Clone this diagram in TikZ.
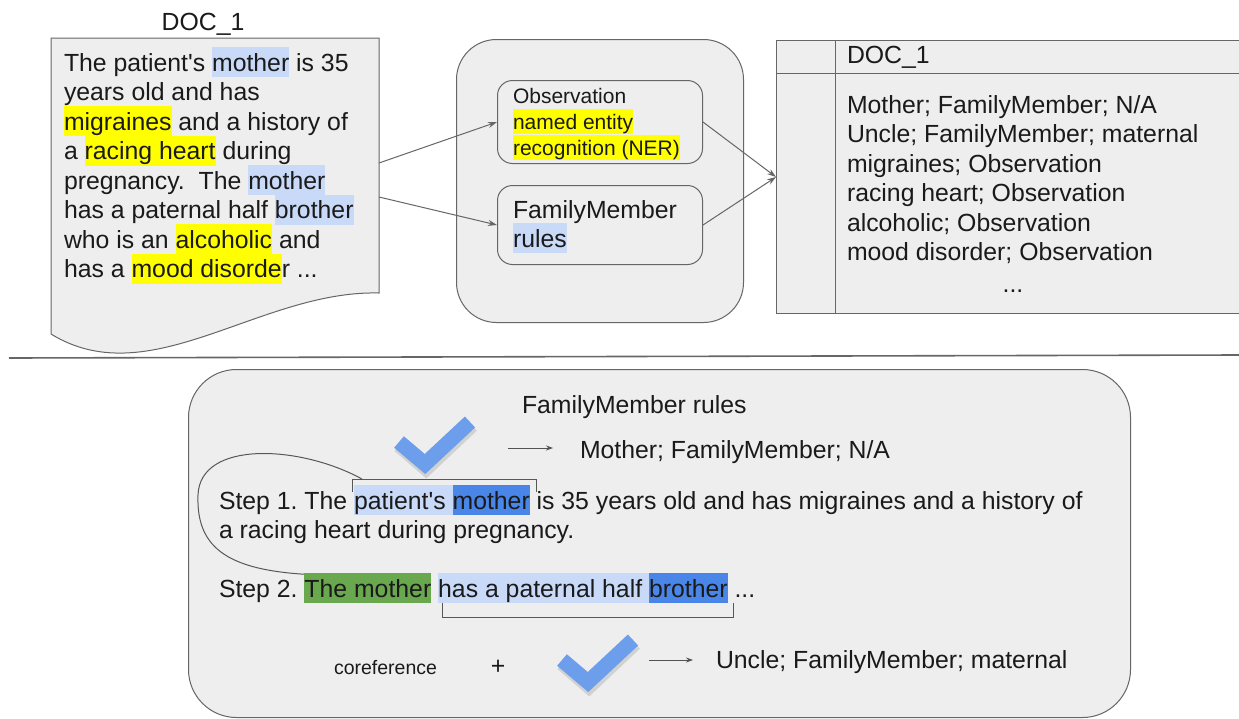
\documentclass[tikz,border=0pt]{standalone}
\usepackage{fontspec}
\newfontfamily\arial{Liberation Sans}
\usetikzlibrary{arrows.meta}
\definecolor{boxfill}{HTML}{EEEEEE}
\definecolor{edge}{HTML}{666666}
\definecolor{hlblue}{HTML}{C9DAF8}
\definecolor{hldark}{HTML}{4A86E8}
\definecolor{hlgreen}{HTML}{6AA84F}
\definecolor{hlyellow}{HTML}{FFFF00}
\definecolor{checkblue}{HTML}{6D9EEB}
\definecolor{ink}{HTML}{1A1A1A}
\newcommand\hlstrut{\rule[-0.26em]{0pt}{1.21em}}
\newcommand\hl[2]{{\setlength{\fboxsep}{0pt}\colorbox{#1}{\hlstrut #2}}}
\newcommand\fbig{\arial\frenchspacing\fontsize{24.8pt}{29.5pt}\selectfont}
\newcommand\fmid{\arial\frenchspacing\fontsize{21pt}{26pt}\selectfont}
\newcommand\fsml{\arial\frenchspacing\fontsize{19.5pt}{23pt}\selectfont}
\tikzset{
  txt/.style={anchor=base west, inner sep=0pt, outer sep=0pt, text=ink, font=\fbig},
  midtxt/.style={txt, font=\fmid},
  shapebox/.style={draw=edge, fill=boxfill, line width=1pt, inner sep=0pt, anchor=north west},
  arr/.style={draw=edge, line width=1pt, -{Stealth[length=9pt,width=6pt]}},
  smallarr/.style={draw=edge!80!black, line width=0.9pt, -{Stealth[length=7pt,width=5pt]}},
  thinline/.style={draw=edge!85!black, line width=1pt},
  checkmark/.style={draw=checkblue, line width=15pt, line cap=butt, line join=miter},
  checkshadow/.style={draw=black, opacity=0.12, line width=17pt, line cap=butt, line join=miter}
}
\begin{document}
\begin{tikzpicture}[x=1pt,y=-1pt]
\useasboundingbox (0,0) rectangle (1239,718);
\fill[white] (0,0) rectangle (1239,718);

% ---------- source document ----------
\node[txt, anchor=base] (doctitle) at (203,30) {DOC\_1};
\draw[draw=edge, fill=boxfill, line width=1pt] (51,38) -- (379,38) -- (379,293)
  .. controls (260,290) and (150,395) .. (51,334) -- cycle;
\coordinate (docA) at (379,163);
\coordinate (docB) at (379,197);
\node[txt] (d1) at (64,71) {The patient's \hl{hlblue}{mother} is 35};
\node[txt] (d2) at (64,100.5) {years old and has};
\node[txt] (d3) at (64,130) {\hl{hlyellow}{migraines} and a history of};
\node[txt] (d4) at (64,159.5) {a \hl{hlyellow}{racing heart} during};
\node[txt] (d5) at (64,189) {pregnancy.\ \ The \hl{hlblue}{mother}};
\node[txt] (d6) at (64,218.5) {has a paternal half \hl{hlblue}{brother}};
\node[txt] (d7) at (64,248) {who is an \hl{hlyellow}{alcoholic} and};
\node[txt] (d8) at (64,277.5) {has a \hl{hlyellow}{mood disorde}r ...};

% ---------- middle panel ----------
\node[shapebox, rounded corners=40pt, minimum width=287pt, minimum height=283pt] (mid) at (456,39) {};
\node[shapebox, rounded corners=15pt, minimum width=205pt, minimum height=83pt] (obs) at (497,80) {};
\node[shapebox, rounded corners=15pt, minimum width=205pt, minimum height=79pt] (fmb) at (497,185) {};
\node[midtxt] (obs1) at (513,103) {Observation};
\node[midtxt] (obs2) at (513,129) {\hl{hlyellow}{named entity}};
\node[midtxt] (obs3) at (513,155) {\hl{hlyellow}{recognition (NER)}};
\node[txt] (fmb1) at (513,218) {FamilyMember};
\node[txt] (fmb2) at (513,247) {\hl{hlblue}{rules}};

% ---------- output table ----------
\node[shapebox, minimum width=465pt, minimum height=273pt] (tbl) at (776,40) {};
\draw[draw=edge, line width=1pt] (835,40) -- (835,313);
\draw[draw=edge, line width=1pt] (776,73) -- (1241,73);
\node[txt] (th) at (847,63) {DOC\_1};
\node[txt] (t1) at (847,113) {Mother; FamilyMember; N/A};
\node[txt] (t2) at (847,142.5) {Uncle; FamilyMember; maternal};
\node[txt] (t3) at (847,172) {migraines; Observation};
\node[txt] (t4) at (847,201.5) {racing heart; Observation};
\node[txt] (t5) at (847,231) {alcoholic; Observation};
\node[txt] (t6) at (847,260.5) {mood disorder; Observation};
\node[txt, anchor=base] (t7) at (1013,292) {...};

% ---------- top connectors ----------
\draw[arr] (docA) -- (obs.west);
\draw[arr] (docB) -- (fmb.west);
\draw[arr] (obs.east) -- (tbl.west);
\draw[arr] (fmb.east) -- (tbl.west);

% ---------- separator ----------
\coordinate (sepL) at (9,358);
\coordinate (sepR) at (1239,355);
\draw[draw=edge, line width=1.6pt] (sepL) -- (sepR);

% ---------- bottom panel ----------
\node[shapebox, rounded corners=48pt, minimum width=942pt, minimum height=348pt] (bot) at (188,369) {};
\node[txt] (fmr) at (522,413) {FamilyMember rules};

\draw[checkshadow] (400,444.5) -- (426,467) -- (471,424.5);
\draw[checkmark] (399,442) -- (425,464) -- (470,422);
\coordinate (a1s) at (508,448);
\coordinate (a1e) at (553,448);
\draw[smallarr] (a1s) -- (a1e);
\node[txt] (mo) at (580,458) {Mother; FamilyMember; N/A};

\node[txt] (s1a) at (219,509) {Step 1. The \hl{hlblue}{patient's\ }\hl{hldark}{mother} is 35 years old and has migraines and a history of};
\node[txt] (s1b) at (219,538) {a racing heart during pregnancy.};

\coordinate (b1a) at (352,492);
\coordinate (b1b) at (352,479);
\coordinate (b1c) at (536,479);
\coordinate (b1d) at (536,492);
\draw[thinline] (b1a) -- (b1b) -- (b1c) -- (b1d);

\coordinate (cs) at (362,479);
\coordinate (cm) at (198,495);
\coordinate (ce) at (320,575);
\draw[thinline] (cs) .. controls (300,445) and (200,440) .. (cm)
  .. controls (196,550) and (230,572) .. (ce);

\node[txt] (s2) at (219,597) {Step 2. \hl{hlgreen}{The mother} \hl{hlblue}{has a paternal half\ }\hl{hldark}{brother} ...};

\coordinate (b2a) at (442,603);
\coordinate (b2b) at (442,617);
\coordinate (b2c) at (733,617);
\coordinate (b2d) at (733,603);
\draw[thinline] (b2a) -- (b2b) -- (b2c) -- (b2d);

\node[txt, font=\fsml] (coref) at (334,674) {coreference};
\node[txt, anchor=base] (plus) at (498,674) {+};

\draw[checkshadow] (563,662.5) -- (589,685) -- (634,642.5);
\draw[checkmark] (562,660) -- (588,682) -- (633,640);
\coordinate (a2s) at (649,660);
\coordinate (a2e) at (693,660);
\draw[smallarr] (a2s) -- (a2e);
\node[txt] (uncle) at (716,668) {Uncle; FamilyMember; maternal};
\end{tikzpicture}
\end{document}
